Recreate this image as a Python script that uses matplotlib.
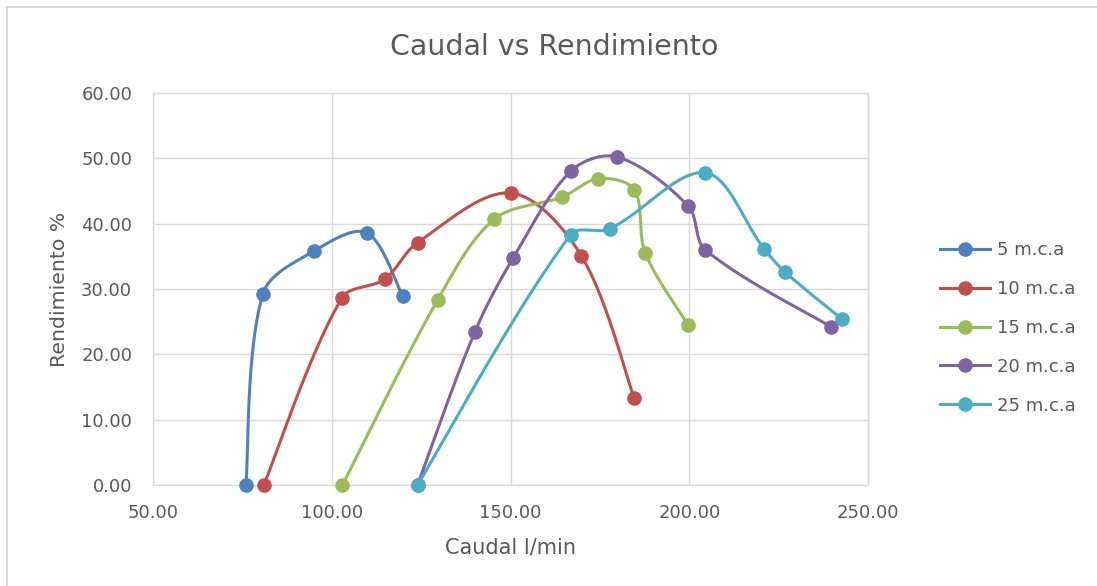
import numpy as np
import matplotlib
matplotlib.use("Agg")
import matplotlib.pyplot as plt
from matplotlib.lines import Line2D

# ---- data ----
series_names = ["5 m.c.a", "10 m.c.a", "15 m.c.a", "20 m.c.a", "25 m.c.a"]
caudal_5 = [76.0, 80.7, 95.0, 109.8, 119.8]
rend_5 = [0.0, 29.2, 35.8, 38.6, 28.9]
caudal_10 = [81.0, 102.8, 114.8, 124.0, 150.0, 169.8, 184.6]
rend_10 = [0.0, 28.6, 31.5, 37.1, 44.7, 35.1, 13.3]
caudal_15 = [103.0, 129.6, 145.5, 164.5, 174.6, 184.6, 187.7, 199.7]
rend_15 = [0.0, 28.3, 40.7, 44.1, 46.9, 45.2, 35.5, 24.5]
caudal_20 = [124.0, 140.0, 150.8, 167.0, 179.9, 199.7, 204.5, 239.7]
rend_20 = [0.0, 23.4, 34.8, 48.1, 50.2, 42.7, 36.0, 24.2]
caudal_25 = [124.0, 166.8, 177.7, 204.5, 221.0, 226.8, 242.7]
rend_25 = [0.0, 38.3, 39.2, 47.8, 36.1, 32.6, 25.4]

xs_all = [caudal_5, caudal_10, caudal_15, caudal_20, caudal_25]
ys_all = [rend_5, rend_10, rend_15, rend_20, rend_25]
colors = ["#4F81BD", "#C0504D", "#9BBB59", "#8064A2", "#4BACC6"]

x_ticks = [50, 100, 150, 200, 250]
y_ticks = [0, 10, 20, 30, 40, 50, 60]

plt.rcParams['font.family'] = ['DejaVu Sans']
TXT = "#595959"

W, H = 1097, 586
fig = plt.figure(figsize=(W / 100, H / 100), dpi=100)
ax = fig.add_axes([153 / W, 1 - 485 / H, (868 - 153) / W, (485 - 93) / H])
ax.set_xlim(50, 250)
ax.set_ylim(0, 60)
ax.set_xticks(x_ticks)
ax.set_yticks(y_ticks)
ax.set_xticklabels([f"{v:.2f}" for v in x_ticks])
ax.set_yticklabels([f"{v:.2f}" for v in y_ticks])
ax.grid(True, color="#D9D9D9", linewidth=1.0)
ax.set_axisbelow(True)
for s in ax.spines.values():
    s.set_color("#D9D9D9")
    s.set_linewidth(1.0)
ax.tick_params(axis="both", length=0, labelsize=13, colors=TXT)
ax.tick_params(axis="y", pad=15)
ax.tick_params(axis="x", pad=14)
ax.set_xlabel("Caudal l/min", fontsize=15, color=TXT, labelpad=11)
ax.set_ylabel("Rendimiento %", fontsize=14.7, color=TXT, labelpad=9)
fig.text(554 / W, 1 - 47 / H, "Caudal vs Rendimiento",
         ha="center", va="center", fontsize=20.5, color=TXT)


def smooth(xs, ys, tension=1.0 / 3.0):
    pts = ax.transData.transform(np.column_stack([xs, ys]))
    n = len(pts)
    out = [pts[0]]
    t = np.linspace(0, 1, 40)[1:]
    for i in range(n - 1):
        p1 = pts[i]
        p2 = pts[i + 1]
        d12 = np.linalg.norm(p2 - p1)
        if i > 0:
            p0 = pts[i - 1]
            d01 = np.linalg.norm(p1 - p0)
            c1 = p1 + (p2 - p0) * tension * d12 / (d01 + d12)
        else:
            c1 = p1 + (p2 - p1) * tension * 0.5
        if i + 2 < n:
            p3 = pts[i + 2]
            d23 = np.linalg.norm(p3 - p2)
            c2 = p2 - (p3 - p1) * tension * d12 / (d12 + d23)
        else:
            c2 = p2 - (p2 - p1) * tension * 0.5
        tt = t[:, None]
        seg = ((1 - tt) ** 3) * p1 + 3 * ((1 - tt) ** 2) * tt * c1 + 3 * (1 - tt) * tt ** 2 * c2 + tt ** 3 * p2
        out.extend(seg)
    out = np.array(out)
    return ax.transData.inverted().transform(out)


handles = []
for name, xs, ys, c in zip(series_names, xs_all, ys_all, colors):
    curve = smooth(xs, ys)
    ax.plot(curve[:, 0], curve[:, 1], color=c, linewidth=2.2, solid_capstyle="round", clip_on=False)
    ax.plot(xs, ys, linestyle="none", marker="o", markersize=9.5, color=c, clip_on=False, zorder=3)
    handles.append(Line2D([], [], color=c, linewidth=2.2, marker="o", markersize=9.5))

fig.legend(handles, series_names, loc="center left", bbox_to_anchor=(940 / W, 1 - 328 / H),
           frameon=False, fontsize=13, labelcolor=TXT, handlelength=2.75,
           labelspacing=1.15, handletextpad=0.4, borderpad=0, borderaxespad=0)

# outer border lines (top & left)
fig.add_artist(Line2D([7 / W, 1], [1 - 7 / H, 1 - 7 / H], color="#D9D9D9", linewidth=1.5))
fig.add_artist(Line2D([7 / W, 7 / W], [0, 1 - 7 / H], color="#D9D9D9", linewidth=1.5))

fig.savefig("out.png", dpi=100, facecolor="white")
